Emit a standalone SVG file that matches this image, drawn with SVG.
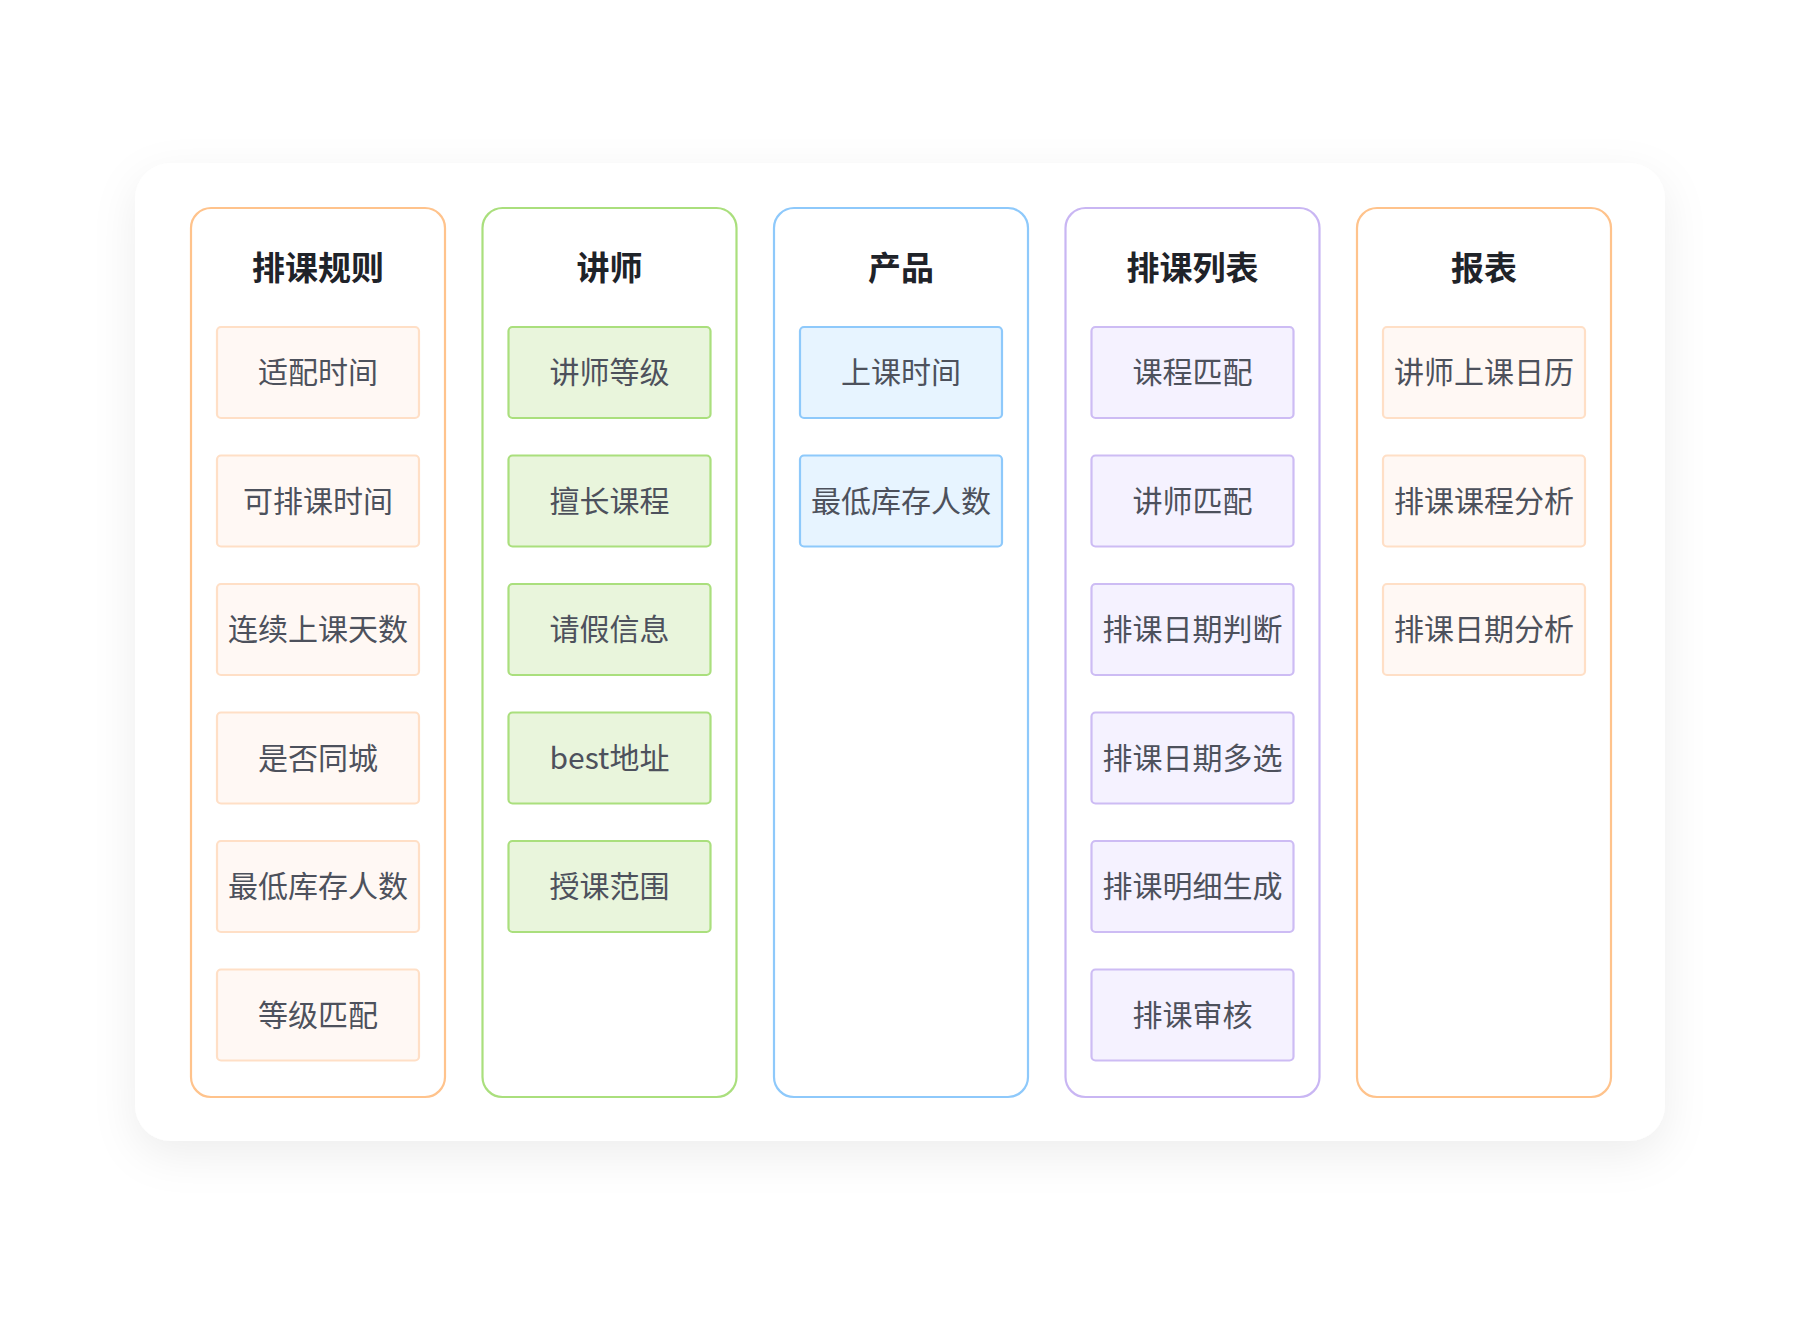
<svg xmlns="http://www.w3.org/2000/svg" width="1800" height="1320" viewBox="0 0 1800 1320">
<defs>
<filter id="sh" x="-10%" y="-10%" width="120%" height="130%">
<feDropShadow dx="0" dy="14" stdDeviation="22" flood-color="#000000" flood-opacity="0.07"/>
</filter>
<style>
.col{fill:#ffffff;stroke-width:2.2}
.it{stroke-width:2.2}
.t{font-family:"Noto Sans CJK SC","Noto Sans",sans-serif;font-size:33px;font-weight:bold;fill:#1f2329;text-anchor:middle;dominant-baseline:central}
.l{font-family:"Noto Sans CJK SC","Noto Sans",sans-serif;font-size:30px;fill:#4d515c;text-anchor:middle;dominant-baseline:central}
.o .col{stroke:#ffc38c}
.o .it{fill:#fff8f4;stroke:#ffdfc6}
.g .col{stroke:#aadf7d}
.g .it{fill:#e9f5dc;stroke:#aadf7d}
.b .col{stroke:#8ec9fb}
.b .it{fill:#e7f4ff;stroke:#8ec9fb}
.p .col{stroke:#c9b6f3}
.p .it{fill:#f5f2ff;stroke:#cdbcf4}
</style>
</defs>
<rect width="1800" height="1320" fill="#ffffff"/>
<rect x="135" y="163" width="1530" height="978" rx="36" fill="#ffffff" filter="url(#sh)"/>

<g id="col-rules" class="o">
<rect class="col" x="191" y="208" width="254" height="889" rx="20"/>
<text class="t" x="318" y="266">排课规则</text>
<rect class="it" x="217" y="327" width="202" height="91" rx="4"/><text class="l" x="318" y="370">适配时间</text>
<rect class="it" x="217" y="455.5" width="202" height="91" rx="4"/><text class="l" x="318" y="498.5">可排课时间</text>
<rect class="it" x="217" y="584" width="202" height="91" rx="4"/><text class="l" x="318" y="627">连续上课天数</text>
<rect class="it" x="217" y="712.5" width="202" height="91" rx="4"/><text class="l" x="318" y="755.5">是否同城</text>
<rect class="it" x="217" y="841" width="202" height="91" rx="4"/><text class="l" x="318" y="884">最低库存人数</text>
<rect class="it" x="217" y="969.5" width="202" height="91" rx="4"/><text class="l" x="318" y="1012.5">等级匹配</text>
</g>

<g id="col-teacher" class="g">
<rect class="col" x="482.5" y="208" width="254" height="889" rx="20"/>
<text class="t" x="609.5" y="266">讲师</text>
<rect class="it" x="508.5" y="327" width="202" height="91" rx="4"/><text class="l" x="609.5" y="370">讲师等级</text>
<rect class="it" x="508.5" y="455.5" width="202" height="91" rx="4"/><text class="l" x="609.5" y="498.5">擅长课程</text>
<rect class="it" x="508.5" y="584" width="202" height="91" rx="4"/><text class="l" x="609.5" y="627">请假信息</text>
<rect class="it" x="508.5" y="712.5" width="202" height="91" rx="4"/><text class="l" x="609.5" y="755.5">best地址</text>
<rect class="it" x="508.5" y="841" width="202" height="91" rx="4"/><text class="l" x="609.5" y="884">授课范围</text>
</g>

<g id="col-product" class="b">
<rect class="col" x="774" y="208" width="254" height="889" rx="20"/>
<text class="t" x="901" y="266">产品</text>
<rect class="it" x="800" y="327" width="202" height="91" rx="4"/><text class="l" x="901" y="370">上课时间</text>
<rect class="it" x="800" y="455.5" width="202" height="91" rx="4"/><text class="l" x="901" y="498.5">最低库存人数</text>
</g>

<g id="col-list" class="p">
<rect class="col" x="1065.5" y="208" width="254" height="889" rx="20"/>
<text class="t" x="1192.5" y="266">排课列表</text>
<rect class="it" x="1091.5" y="327" width="202" height="91" rx="4"/><text class="l" x="1192.5" y="370">课程匹配</text>
<rect class="it" x="1091.5" y="455.5" width="202" height="91" rx="4"/><text class="l" x="1192.5" y="498.5">讲师匹配</text>
<rect class="it" x="1091.5" y="584" width="202" height="91" rx="4"/><text class="l" x="1192.5" y="627">排课日期判断</text>
<rect class="it" x="1091.5" y="712.5" width="202" height="91" rx="4"/><text class="l" x="1192.5" y="755.5">排课日期多选</text>
<rect class="it" x="1091.5" y="841" width="202" height="91" rx="4"/><text class="l" x="1192.5" y="884">排课明细生成</text>
<rect class="it" x="1091.5" y="969.5" width="202" height="91" rx="4"/><text class="l" x="1192.5" y="1012.5">排课审核</text>
</g>

<g id="col-report" class="o">
<rect class="col" x="1357" y="208" width="254" height="889" rx="20"/>
<text class="t" x="1484" y="266">报表</text>
<rect class="it" x="1383" y="327" width="202" height="91" rx="4"/><text class="l" x="1484" y="370">讲师上课日历</text>
<rect class="it" x="1383" y="455.5" width="202" height="91" rx="4"/><text class="l" x="1484" y="498.5">排课课程分析</text>
<rect class="it" x="1383" y="584" width="202" height="91" rx="4"/><text class="l" x="1484" y="627">排课日期分析</text>
</g>

<g id="connectors"></g>
</svg>
